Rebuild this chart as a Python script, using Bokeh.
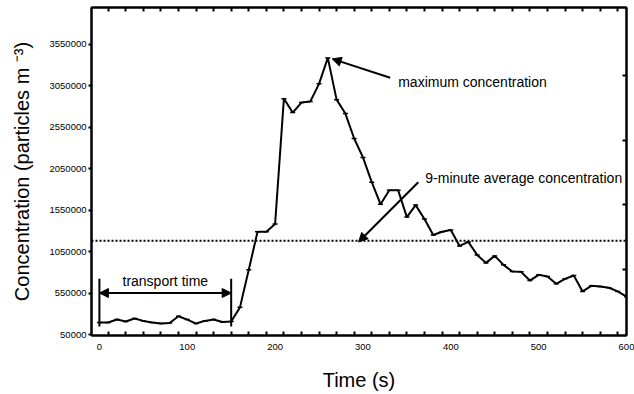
from bokeh.plotting import figure
from bokeh.models import (Range1d, FixedTicker, LinearAxis, Span, Arrow, NormalHead,
                          Label, ColumnDataSource, BasicTickFormatter)
from bokeh.embed import file_html
from bokeh.resources import INLINE

# ---- data ----
time_s = [0, 10, 20, 30, 40, 50, 60, 70, 80, 90, 100, 110, 120, 130, 140, 150,
          160, 170, 180, 190, 200, 210, 220, 230, 240, 250, 260, 270, 280, 290,
          300, 310, 320, 330, 340, 350, 360, 370, 380, 390, 400, 410, 420, 430,
          440, 450, 460, 470, 480, 490, 500, 510, 520, 530, 540, 550, 560, 570,
          580, 590, 600]
concentration = [194000, 194000, 230000, 206000, 242000, 214000, 194000, 182000,
                 188000, 270000, 230000, 182000, 214000, 230000, 200000, 206000,
                 377000, 829000, 1288000, 1288000, 1381000, 2892000, 2724000,
                 2844000, 2856000, 3070000, 3383000, 2880000, 2712000, 2412000,
                 2184000, 1885000, 1620000, 1789000, 1789000, 1465000, 1609000,
                 1441000, 1249000, 1288000, 1309000, 1117000, 1165000, 1009000,
                 913000, 997000, 889000, 809000, 805000, 700000, 769000, 750000,
                 661000, 721000, 761000, 569000, 637000, 629000, 613000, 569000,
                 505000]
average_9min = 1180000
x_tick_labels = [0, 100, 200, 300, 400, 500, 600]
x_minor_ticks = [10, 30, 50, 70, 90, 110, 130, 150, 170, 190, 210, 230, 250, 270,
                 290, 310, 330, 350, 370, 390, 410, 430, 450, 470, 490, 510, 530,
                 550, 570, 590]
y_ticks = [50000, 550000, 1050000, 1550000, 2050000, 2550000, 3050000, 3550000]
right_ticks = [829000, 1620000, 2388000, 3167000]
transport_start, transport_end = 0, 150
transport_level = 550000
transport_bar_bottom, transport_bar_top = 146000, 721000
max_arrow = dict(x_start=331, y_start=3143000, x_end=265, y_end=3371000)
avg_arrow = dict(x_start=363, y_start=1884000, x_end=295, y_end=1165000)

FONT = "Liberation Sans"

p = figure(frame_width=535, frame_height=328, output_backend="svg",
           toolbar_location=None,
           x_range=Range1d(-9, 600), y_range=Range1d(38000, 3990000),
           min_border_left=91, min_border_right=8, min_border_top=7,
           min_border_bottom=50)
p.background_fill_color = "white"
p.border_fill_color = "white"
p.outline_line_color = "black"
p.outline_line_width = 2
p.grid.visible = False

# bottom axis
xa = p.xaxis[0]
xa.ticker = FixedTicker(ticks=x_tick_labels, minor_ticks=x_minor_ticks)
xa.major_tick_in = 0
xa.major_tick_out = 0
xa.minor_tick_in = 4
xa.minor_tick_out = 0
xa.minor_tick_line_width = 2
xa.axis_line_width = 2
xa.major_label_text_font = FONT
xa.major_label_text_font_size = "9.5px"
xa.major_label_text_color = "black"
xa.major_label_standoff = 8
xa.axis_label = "Time (s)"
xa.axis_label_text_font = FONT
xa.axis_label_text_font_size = "20px"
xa.axis_label_text_font_style = "normal"
xa.axis_label_text_color = "black"
xa.axis_label_standoff = 16

# left axis
ya = p.yaxis[0]
ya.ticker = FixedTicker(ticks=y_ticks, minor_ticks=[])
ya.formatter = BasicTickFormatter(use_scientific=False)
ya.major_tick_in = 0
ya.major_tick_out = 3
ya.major_tick_line_width = 2
ya.axis_line_width = 2
ya.major_label_text_font = FONT
ya.major_label_text_font_size = "9.5px"
ya.major_label_text_color = "black"
ya.major_label_standoff = 2
ya.axis_label = "Concentration (particles m \u207b\u00b3)"
ya.axis_label_text_font = FONT
ya.axis_label_text_font_size = "20px"
ya.axis_label_text_font_style = "normal"
ya.axis_label_text_color = "black"
ya.axis_label_standoff = 14

# top axis (ticks only)
ta = LinearAxis(ticker=FixedTicker(ticks=[], minor_ticks=x_minor_ticks),
                axis_line_width=2,
                minor_tick_in=4, minor_tick_out=0, minor_tick_line_width=2,
                major_tick_in=0, major_tick_out=0)
p.add_layout(ta, "above")
# right axis (ticks only)
ra = LinearAxis(ticker=FixedTicker(ticks=[], minor_ticks=right_ticks),
                axis_line_width=2,
                minor_tick_in=4, minor_tick_out=0, minor_tick_line_width=2,
                major_tick_in=0, major_tick_out=0)
p.add_layout(ra, "right")

src = ColumnDataSource(dict(t=time_s, c=concentration))
p.line("t", "c", source=src, line_color="black", line_width=2)
p.scatter("t", "c", source=src, marker="dash", size=5, line_color="black",
          line_width=1.5)

# 9-minute average
p.add_layout(Span(location=average_9min, dimension="width", line_color="black",
                  line_width=2, line_dash="2 2"))

# transport time
p.segment(x0=[transport_start, transport_end], x1=[transport_start, transport_end],
          y0=[transport_bar_bottom] * 2, y1=[transport_bar_top] * 2,
          line_color="black", line_width=2)
p.add_layout(Arrow(start=NormalHead(size=9, fill_color="black", line_color="black"),
                   end=NormalHead(size=9, fill_color="black", line_color="black"),
                   x_start=transport_start, y_start=transport_level,
                   x_end=transport_end, y_end=transport_level,
                   line_color="black", line_width=2))
p.add_layout(Label(x=(transport_start + transport_end) / 2, y=transport_level,
                   text="transport time", text_align="center",
                   text_baseline="bottom", y_offset=4, text_font=FONT,
                   text_font_size="14px", text_color="black"))

# maximum concentration
p.add_layout(Arrow(end=NormalHead(size=9, fill_color="black", line_color="black"),
                   line_color="black", line_width=2, **max_arrow))
p.add_layout(Label(x=max_arrow["x_start"], y=max_arrow["y_start"],
                   text="maximum concentration", text_align="left",
                   text_baseline="middle", x_offset=8, y_offset=-4,
                   text_font=FONT, text_font_size="14px", text_color="black"))

# 9-minute average concentration
p.add_layout(Arrow(end=NormalHead(size=9, fill_color="black", line_color="black"),
                   line_color="black", line_width=2, **avg_arrow))
p.add_layout(Label(x=avg_arrow["x_start"], y=avg_arrow["y_start"],
                   text="9-minute average concentration", text_align="left",
                   text_baseline="middle", x_offset=7, y_offset=4,
                   text_font=FONT, text_font_size="14px", text_color="black"))

open("out.html", "w").write(file_html(p, INLINE))
